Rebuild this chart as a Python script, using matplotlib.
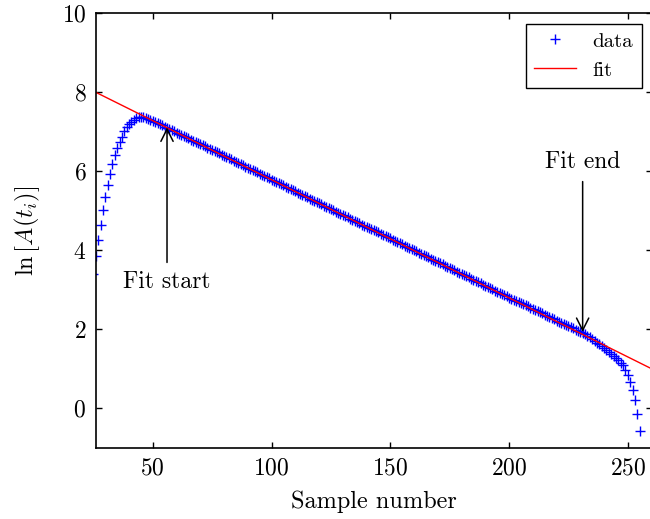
import numpy as np
import matplotlib
matplotlib.use("Agg")
import matplotlib.pyplot as plt

plt.rcParams['font.family'] = 'cmr10'
plt.rcParams['mathtext.fontset'] = 'cm'
plt.rcParams['axes.formatter.use_mathtext'] = True

# measured log-amplitude, one value per sample (samples 25..255)
samples = np.arange(25, 256)
ln_amp = [
    3.40,
    3.85, 4.25, 4.65, 5.03, 5.35, 5.65, 5.94, 6.19, 6.42, 6.59,
    6.74, 6.88, 7.01, 7.11, 7.19, 7.26, 7.31, 7.35, 7.37, 7.38,
    7.37, 7.35, 7.33, 7.31,
    7.28, 7.25, 7.22, 7.19, 7.16, 7.13, 7.10, 7.07, 7.04, 7.01,
    6.98, 6.95, 6.92, 6.89, 6.86, 6.83, 6.80, 6.77, 6.74, 6.71,
    6.69, 6.66, 6.63, 6.60, 6.57, 6.54, 6.51, 6.48, 6.45, 6.42,
    6.39, 6.36, 6.33, 6.30, 6.27, 6.24, 6.21, 6.18, 6.15, 6.12,
    6.09, 6.06, 6.03, 6.00, 5.97, 5.94, 5.91, 5.88, 5.85, 5.82,
    5.79, 5.76, 5.73, 5.70, 5.67, 5.64, 5.61, 5.58, 5.55, 5.52,
    5.49, 5.46, 5.43, 5.40, 5.37, 5.34, 5.31, 5.28, 5.25, 5.22,
    5.19, 5.16, 5.13, 5.10, 5.07, 5.04, 5.01, 4.98, 4.95, 4.92,
    4.89, 4.86, 4.83, 4.80, 4.77, 4.74, 4.71, 4.68, 4.65, 4.62,
    4.60, 4.57, 4.54, 4.51, 4.48, 4.45, 4.42, 4.39, 4.36, 4.33,
    4.30, 4.27, 4.24, 4.21, 4.18, 4.15, 4.12, 4.09, 4.06, 4.03,
    4.00, 3.97, 3.94, 3.91, 3.88, 3.85, 3.82, 3.79, 3.76, 3.73,
    3.70, 3.67, 3.64, 3.61, 3.58, 3.55, 3.52, 3.49, 3.46, 3.43,
    3.40, 3.37, 3.34, 3.31, 3.28, 3.25, 3.22, 3.19, 3.16, 3.13,
    3.10, 3.07, 3.04, 3.01, 2.98, 2.95, 2.92, 2.89, 2.86, 2.83,
    2.80, 2.77, 2.74, 2.72, 2.69, 2.67, 2.64, 2.61, 2.58, 2.55,
    2.52, 2.49, 2.46, 2.43, 2.40, 2.37, 2.34, 2.31, 2.28, 2.25,
    2.22, 2.19, 2.16, 2.13, 2.10, 2.08, 2.05, 2.02, 1.99, 1.96,
    1.93, 1.90, 1.87,
    1.84, 1.80, 1.76, 1.71, 1.66, 1.62, 1.57, 1.52, 1.48, 1.43,
    1.38, 1.33, 1.27, 1.21, 1.15, 1.09, 0.96, 0.84, 0.67, 0.46,
    0.20, -0.14, -0.57,
]

# straight-line fit, end points
fit_x = [26, 260]
fit_y = [8.0, 1.0]

fit_start = (56, 7.11)
fit_end = (231, 1.93)

fig = plt.figure(figsize=(6.5, 5.19), dpi=100)
ax = fig.add_axes([96 / 650, 71.3 / 519, 556 / 650, 434.4 / 519])

ax.plot(samples, ln_amp, '+', color='#0000ff', markersize=7, mew=1.0, label='data')
ax.plot(fit_x, fit_y, '-', color='#ff0000', lw=1.0, label='fit')

arrow = dict(arrowstyle='->', color='black', lw=1.1, mutation_scale=22, shrinkA=4, shrinkB=0)
ax.annotate('Fit start', xy=fit_start, xytext=(56, 3.2), fontsize=17,
            ha='center', va='center', arrowprops=arrow)
ax.annotate('Fit end', xy=fit_end, xytext=(231, 6.23), fontsize=17,
            ha='center', va='center', arrowprops=arrow)

ax.set_xlim(26.1, 260.2)
ax.set_ylim(-1, 10)
ax.set_xticks([50, 100, 150, 200, 250])
ax.set_yticks([0, 2, 4, 6, 8, 10])
ax.tick_params(direction='in', top=True, right=True, length=4, width=1, labelsize=17, pad=7)
for s in ax.spines.values():
    s.set_linewidth(1.2)

ax.set_xlabel('Sample number', fontsize=17.5, labelpad=8)
ax.set_ylabel(r'$\ln\left[A(t_i)\right]$', fontsize=17.5, labelpad=14)

leg = ax.legend(loc='upper right', fontsize=15, fancybox=False, framealpha=1,
                edgecolor='black', borderaxespad=0.5, handlelength=2.0)
leg.get_frame().set_linewidth(1.0)

fig.savefig('out.png', dpi=100)
